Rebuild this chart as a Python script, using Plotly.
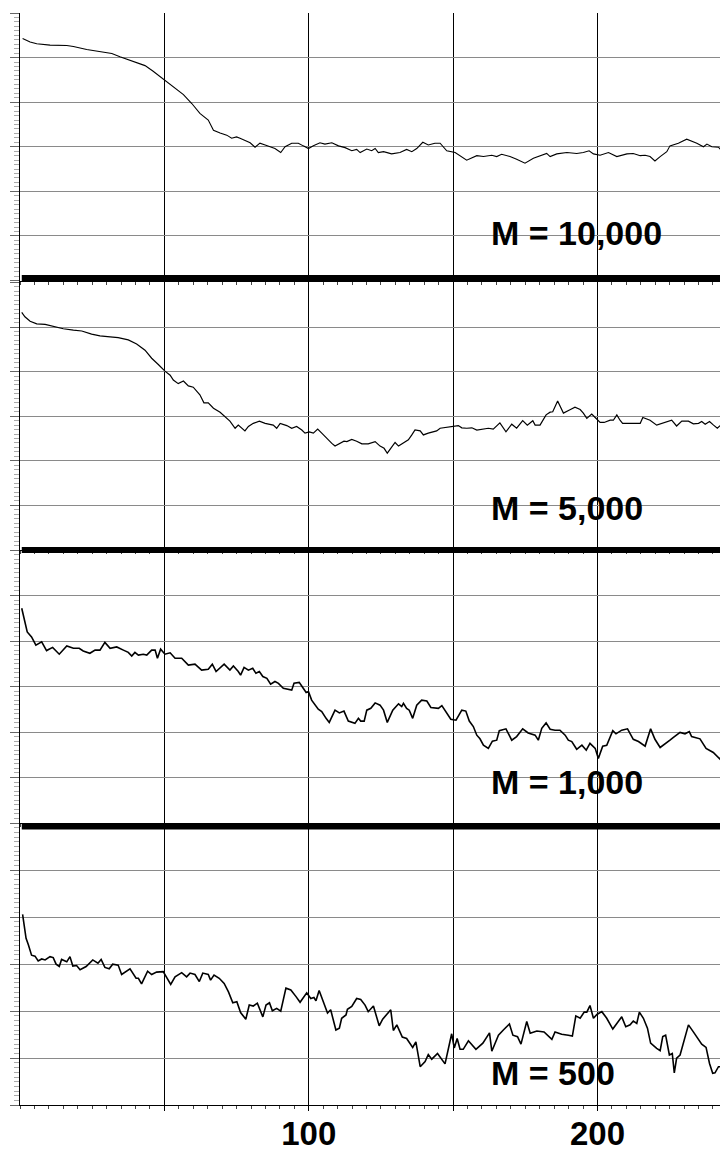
import plotly.graph_objects as go

panel_labels = ["M = 10,000", "M = 5,000", "M = 1,000", "M = 500"]
x_tick_vals = [50, 100, 150, 200]
x_tick_text = ["", "100", "", "200"]

p1_x = [0.9, 3.5, 5.8, 10.4, 16.2, 18.5, 23.1, 27.7, 31.8, 34.6, 39.3, 43.3, 46.0, 49.6, 53.0, 56.6, 59.5, 62.3,
        65.2, 67.0, 69.3, 71.6, 73.3, 75.0, 76.2, 79.7, 81.4, 83.1, 84.9, 86.6, 88.3, 90.3, 91.8, 94.1, 96.4, 98.1,
        99.9, 101.6, 103.9, 105.6, 108.0, 110.3, 112.6, 114.9, 116.6, 117.8, 120.1, 121.8, 123.0, 124.1, 125.9,
        128.7, 131.6, 133.9, 135.7, 137.4, 139.5, 141.4, 143.7, 145.5, 147.8, 150.7, 154.7, 158.2, 160.5, 163.4,
        165.1, 166.8, 169.7, 172.0, 174.9, 177.8, 180.7, 182.4, 183.6, 185.9, 189.4, 192.8, 195.1, 197.1, 198.6,
        200.9, 203.8, 206.7, 210.2, 212.4, 214.8, 216.5, 218.2, 219.9, 221.7, 224.0, 225.1, 228.0, 230.9, 234.4,
        236.7, 237.9, 239.6, 241.9, 243.6, 245.2]
p1_y = [5.43, 5.35, 5.31, 5.28, 5.27, 5.25, 5.18, 5.13, 5.09, 5.02, 4.91, 4.82, 4.70, 4.52, 4.35, 4.17, 3.97, 3.75,
        3.60, 3.37, 3.31, 3.26, 3.19, 3.22, 3.19, 3.09, 2.99, 3.08, 3.04, 3.00, 2.96, 2.87, 3.00, 3.08, 3.08, 3.02,
        2.96, 3.02, 3.09, 3.06, 3.09, 3.02, 2.98, 2.91, 2.94, 2.87, 2.95, 2.91, 2.96, 2.87, 2.89,
        2.84, 2.87, 2.94, 2.89, 2.96, 3.10, 3.04, 3.08, 3.08, 2.91, 2.87, 2.70, 2.80, 2.78, 2.81,
        2.78, 2.83, 2.78, 2.72, 2.63, 2.74, 2.81, 2.85, 2.78, 2.84, 2.87, 2.85, 2.87, 2.91, 2.84,
        2.81, 2.87, 2.78, 2.84, 2.85, 2.80, 2.81, 2.78, 2.68, 2.78, 2.89, 3.02, 3.08, 3.17, 3.08,
        3.00, 3.06, 3.00, 2.99, 2.87, 2.91]

p2_x = [0.6, 1.7, 3.5, 5.8, 8.7, 11.5, 15.0, 18.5, 21.4, 24.8, 27.7, 31.2, 34.0, 37.5, 40.4, 43.3, 45.6, 47.9,
        50.2, 52.0, 53.1, 54.8, 56.6, 58.3, 60.0, 62.3, 63.7, 65.2, 67.0, 69.3, 71.0, 72.7, 74.5, 75.6,
        77.9, 79.1, 80.8, 82.9, 84.9, 87.7, 88.9, 90.1, 92.4, 94.1, 95.8, 97.6, 98.7, 100.2, 101.6, 103.1, 104.5,
        106.2, 108.0, 109.1, 110.8, 112.2, 113.2, 114.9, 116.6, 118.4, 120.6, 123.0, 124.7, 126.1, 127.2, 128.2,
        129.9, 131.1, 132.8, 134.5, 135.7, 136.8, 138.6, 139.7, 141.4, 143.2, 144.3, 145.5, 146.6, 150.1, 151.8,
        153.0, 154.7, 156.5, 158.2, 162.2, 163.9, 166.2, 168.3, 170.3, 172.0, 174.1, 175.7, 177.6, 178.4, 180.1,
        182.2, 183.6, 184.5, 186.2, 188.2, 190.3, 192.2, 194.0, 195.1, 196.3, 198.0, 199.2, 200.9, 202.3, 204.4,
        205.5, 206.7, 207.8, 208.7, 211.3, 213.6, 214.8, 215.7, 218.2, 220.5, 222.8, 225.7, 227.4, 229.2, 231.5,
        233.2, 235.0, 236.1, 237.3, 238.8, 240.2, 241.5, 243.0, 245.7]
p2_y = [5.33, 5.23, 5.13, 5.07, 5.06, 5.01, 4.96, 4.93, 4.91, 4.84, 4.80, 4.78, 4.76, 4.71, 4.62, 4.48, 4.30, 4.16,
        4.01, 3.92, 3.81, 3.73, 3.79, 3.68, 3.65, 3.48, 3.30, 3.30, 3.18, 3.09, 2.99, 2.89, 2.73, 2.80,
        2.67, 2.77, 2.84, 2.89, 2.84, 2.80, 2.73, 2.84, 2.79, 2.73, 2.77, 2.69, 2.62, 2.65, 2.62, 2.71, 2.62,
        2.50, 2.39, 2.33, 2.39, 2.44, 2.43, 2.48, 2.44, 2.38, 2.38, 2.43, 2.33, 2.28, 2.17, 2.26,
        2.41, 2.33, 2.41, 2.47, 2.58, 2.69, 2.67, 2.58, 2.62, 2.65, 2.67, 2.73, 2.74, 2.77, 2.79,
        2.74, 2.73, 2.74, 2.69, 2.73, 2.71, 2.85, 2.65, 2.82, 2.73, 2.90, 2.80, 2.90, 2.80, 2.80,
        3.03, 3.09, 3.10, 3.34, 3.07, 3.14, 3.20, 3.15, 3.07, 2.95, 3.05, 2.97, 2.86, 2.86, 2.91,
        2.91, 3.03, 2.91, 2.84, 2.84, 2.84, 2.84, 2.97, 2.91, 2.80, 2.85, 2.91, 2.78, 2.89, 2.89,
        2.83, 2.84, 2.88, 2.82, 2.88, 2.80, 2.73, 2.82, 2.88]

p3_x = [0.6, 1.7, 2.5, 4.0, 5.5, 7.5, 9.2, 11.3, 13.6, 16.2, 18.5, 20.5, 21.9, 24.2, 26.0, 27.7, 29.4, 31.2, 33.5,
        35.8, 37.5, 38.7, 39.8, 41.0, 42.7, 43.9, 45.6, 46.8, 47.6, 48.7, 50.2, 52.0, 53.7, 56.0, 58.3, 60.6, 62.9,
        65.2, 66.6, 67.9, 70.7, 72.7, 73.9, 75.6, 76.4, 77.6, 79.1, 80.6, 81.7, 82.9, 84.1, 85.5, 86.8, 88.3, 89.5,
        91.2, 93.5, 94.1, 94.9, 96.7, 98.1, 99.1, 99.9, 101.0, 103.3, 104.5, 106.0, 107.1, 109.1, 110.6, 112.2,
        113.7, 116.0, 117.2, 118.0, 119.2, 120.1, 121.5, 123.0, 124.7, 125.9, 127.2, 129.1, 131.1, 132.2, 132.8,
        133.9, 134.8, 136.0, 137.4, 139.1, 140.9, 142.3, 144.9, 146.1, 147.2, 149.2, 151.0, 153.0, 154.4, 155.6,
        157.0, 158.2, 159.3, 160.5, 162.2, 163.6, 165.1, 166.0, 168.3, 170.3, 172.0, 174.1, 176.0, 178.4, 179.5,
        180.7, 182.2, 183.6, 185.3, 187.0, 188.8, 189.9, 191.1, 192.8, 194.6, 196.1, 197.4, 199.2, 200.3, 201.8,
        203.2, 205.3, 206.4, 208.4, 210.4, 212.4, 214.2, 216.5, 218.4, 219.9, 221.7, 223.4, 225.1, 226.3, 228.6,
        230.3, 231.8, 232.6, 235.5, 237.6, 240.1, 242.5, 243.9, 244.8]
p3_y = [4.72, 4.39, 4.20, 4.09, 3.91, 3.98, 3.79, 3.86, 3.71, 3.89, 3.84, 3.84, 3.78, 3.73, 3.80, 3.80, 3.97, 3.84, 3.87,
        3.80, 3.75, 3.67, 3.75, 3.69, 3.71, 3.69, 3.80, 3.80, 3.62, 3.82, 3.71, 3.74, 3.62, 3.62, 3.47, 3.49, 3.36,
        3.38, 3.49, 3.33, 3.49, 3.36, 3.45, 3.33, 3.25, 3.42, 3.36, 3.40, 3.29, 3.33, 3.22, 3.18, 3.05, 3.11, 3.07,
        2.96, 2.94, 2.92, 3.07, 3.09, 2.96, 2.87, 2.89, 2.70, 2.50, 2.45, 2.30, 2.21, 2.48, 2.42, 2.46,
        2.24, 2.19, 2.30, 2.24, 2.24, 2.48, 2.52, 2.64, 2.59, 2.48, 2.21, 2.48, 2.62, 2.56, 2.63,
        2.52, 2.48, 2.30, 2.59, 2.70, 2.68, 2.54, 2.52, 2.58, 2.48, 2.28, 2.26, 2.48, 2.46, 2.24,
        2.12, 1.93, 1.85, 1.71, 1.64, 1.80, 1.82, 2.03, 2.07, 1.82, 1.90, 2.07, 1.98, 1.93, 1.82,
        2.08, 2.20, 2.06, 2.04, 2.04, 1.93, 1.82, 1.79, 1.62, 1.71, 1.60, 1.75, 1.64, 1.42, 1.69,
        1.71, 2.03, 1.96, 2.04, 2.07, 1.84, 1.79, 1.69, 2.07, 1.84, 1.66, 1.75, 1.82, 1.88, 1.99,
        1.96, 2.01, 1.90, 1.85, 1.64, 1.55, 1.40, 1.68, 1.91]

p4_x = [0.9, 2.1, 2.9, 4.0, 5.2, 6.3, 7.5, 8.7, 10.4, 11.5, 12.5, 13.6, 14.4, 16.2, 17.3, 18.3, 19.6, 20.8, 22.9,
        25.2, 27.0, 28.1, 29.4, 30.9, 32.1, 34.0, 35.2, 38.1, 40.2, 41.0, 42.1, 44.2, 45.6, 47.3, 49.6, 51.0, 52.2,
        53.7, 56.0, 57.7, 58.9, 60.6, 62.1, 63.3, 65.2, 66.0, 67.2, 69.0, 70.7, 72.2, 73.7, 75.1, 76.4, 78.2, 79.4,
        80.8, 82.2, 84.1, 85.2, 86.4, 87.4, 88.9, 90.3, 92.1, 93.8, 95.6, 97.0, 99.3, 100.7, 101.8, 102.5, 103.6,
        105.1, 106.5, 107.6, 109.4, 110.6, 111.4, 112.9, 113.4, 114.9, 116.6, 118.0, 119.5, 120.6, 122.4, 124.4,
        125.6, 128.4, 129.3, 130.5, 132.4, 133.9, 136.0, 137.1, 138.6, 140.3, 141.4, 142.6, 144.6, 147.2, 149.5,
        150.4, 151.4, 152.4, 153.5, 155.3, 157.9, 160.3, 162.6, 163.4, 165.7, 167.4, 169.5, 170.7, 172.3, 173.5,
        175.5, 176.7, 179.0, 181.5, 184.2, 185.3, 187.6, 189.9, 191.3, 192.5, 194.0, 195.4, 196.3, 197.4, 198.6,
        199.8, 201.5, 203.2, 205.3, 206.7, 208.4, 209.8, 211.3, 212.4, 213.6, 214.5, 215.9, 217.3, 218.4, 220.5,
        221.7, 222.6, 223.6, 224.9, 225.9, 226.6, 227.4, 228.6, 231.5, 233.2, 234.4, 236.1, 237.6, 238.8, 239.9,
        240.7, 241.9, 243.0, 243.9, 245.2]
p4_y = [4.06, 3.55, 3.41, 3.19, 3.17, 3.07, 3.11, 3.09, 3.16, 3.14, 3.00, 2.95, 3.10, 3.05, 3.16, 2.96, 2.97, 2.88, 2.95,
        3.09, 3.02, 3.10, 2.93, 2.90, 3.00, 2.98, 2.78, 2.90, 2.70, 2.70, 2.58, 2.85, 2.78, 2.83, 2.84, 2.71, 2.57,
        2.73, 2.82, 2.73, 2.81, 2.78, 2.63, 2.81, 2.78, 2.66, 2.77, 2.70, 2.59, 2.41, 2.18, 2.20, 1.97, 1.83, 2.13,
        2.11, 2.17, 1.88, 2.13, 2.18, 2.01, 2.06, 2.00, 2.49, 2.45, 2.31, 2.19, 2.39, 2.27, 2.29, 2.22, 2.44,
        2.20, 1.96, 2.03, 1.60, 1.64, 1.85, 1.92, 2.04, 2.10, 2.27, 2.25, 2.13, 1.99, 2.11, 1.69,
        1.83, 2.03, 1.59, 1.71, 1.45, 1.42, 1.23, 1.35, 0.82, 0.93, 1.08, 0.98, 1.10, 0.88, 1.52,
        1.22, 1.42, 1.19, 1.19, 1.37, 1.19, 1.32, 1.54, 1.15, 1.49, 1.60, 1.73, 1.49, 1.46, 1.30,
        1.78, 1.53, 1.58, 1.56, 1.40, 1.56, 1.51, 1.49, 1.47, 1.90, 1.85, 1.98, 1.98, 2.12, 1.85,
        1.93, 1.99, 1.85, 1.62, 1.74, 1.88, 1.67, 1.71, 1.79, 1.74, 1.98, 1.85, 1.64, 1.32, 1.21,
        1.16, 1.46, 1.49, 1.07, 1.10, 0.69, 1.00, 1.07, 1.71, 1.56, 1.46, 1.30, 1.23, 0.89, 0.68,
        0.69, 0.82, 0.82, 1.03, 1.07]

series = [(p1_x, p1_y), (p2_x, p2_y), (p3_x, p3_y), (p4_x, p4_y)]

# The page body has an 8px margin: shift the figure so that it lines up with the window.
OFF = 8
W, H = 728 - OFF, 1152 - OFF
X_MAX = 245.2
domains_px = [(13, 280.5), (282.4, 550), (550, 823), (823, 1105.3)]   # window pixels
label_y = [1.065, 0.94, 0.90, 0.69]
line_w = [1.1, 1.2, 1.6, 1.6]
bars_px = [278, 550, 826.5]
FONT = "Liberation Sans, Arial, Helvetica, sans-serif"


def py(p):
    return 1 - (p - OFF) / H


fig = go.Figure()
annotations = []
for i, (xs, ys) in enumerate(series):
    n = "" if i == 0 else str(i + 1)
    fig.add_trace(go.Scatter(x=xs, y=ys, mode="lines",
                             line=dict(color="black", width=line_w[i]),
                             xaxis="x" + n, yaxis="y" + n,
                             showlegend=False, hoverinfo="skip"))
    top, bot = domains_px[i]
    last = i == 3
    fig.layout["xaxis" + n] = dict(
        domain=[0, 1], range=[0, X_MAX], anchor="y" + n, automargin=False,
        tickmode="array", tickvals=x_tick_vals, ticktext=x_tick_text,
        showticklabels=last,
        showgrid=True, gridcolor="black", gridwidth=1,
        showline=True, linecolor="black", linewidth=1,
        ticks="outside", ticklen=5, tickcolor="black", tickwidth=1,
        minor=dict(tickmode="linear", tick0=0, dtick=5, ticks="outside",
                   ticklen=3, tickcolor="#444", showgrid=False),
        zeroline=False,
        tickfont=dict(size=33, family=FONT, color="black", weight="bold"),
        ticklabelstandoff=-6,
        fixedrange=True,
    )
    fig.layout["yaxis" + n] = dict(
        domain=[py(bot), py(top)], range=[0, 6], anchor="x" + n, automargin=False,
        tickmode="linear", tick0=0, dtick=1,
        showgrid=True, gridcolor="#8a8a8a", gridwidth=1,
        showline=True, linecolor="black", linewidth=1,
        ticks="outside", ticklen=9, tickcolor="#666",
        showticklabels=False,
        minor=dict(tickmode="linear", tick0=0, dtick=0.1, ticks="outside",
                   ticklen=5, tickcolor="#aaa", showgrid=False),
        zeroline=False, fixedrange=True,
    )
    annotations.append(dict(
        text=panel_labels[i], x=162.4, y=label_y[i], xref="x" + n, yref="y" + n,
        xanchor="left", yanchor="middle", showarrow=False,
        font=dict(size=34, family=FONT, color="black", weight="bold"),
    ))

shapes = [dict(type="line", xref="paper", yref="paper", x0=0.0025, x1=1,
               y0=py(b), y1=py(b), line=dict(color="black", width=6))
          for b in bars_px]

fig.update_layout(
    width=W, height=H,
    margin=dict(l=20 - OFF, r=0, t=0, b=0, autoexpand=False),
    plot_bgcolor="white", paper_bgcolor="white",
    showlegend=False,
    annotations=annotations,
    shapes=shapes,
)

fig.write_html("out.html")
